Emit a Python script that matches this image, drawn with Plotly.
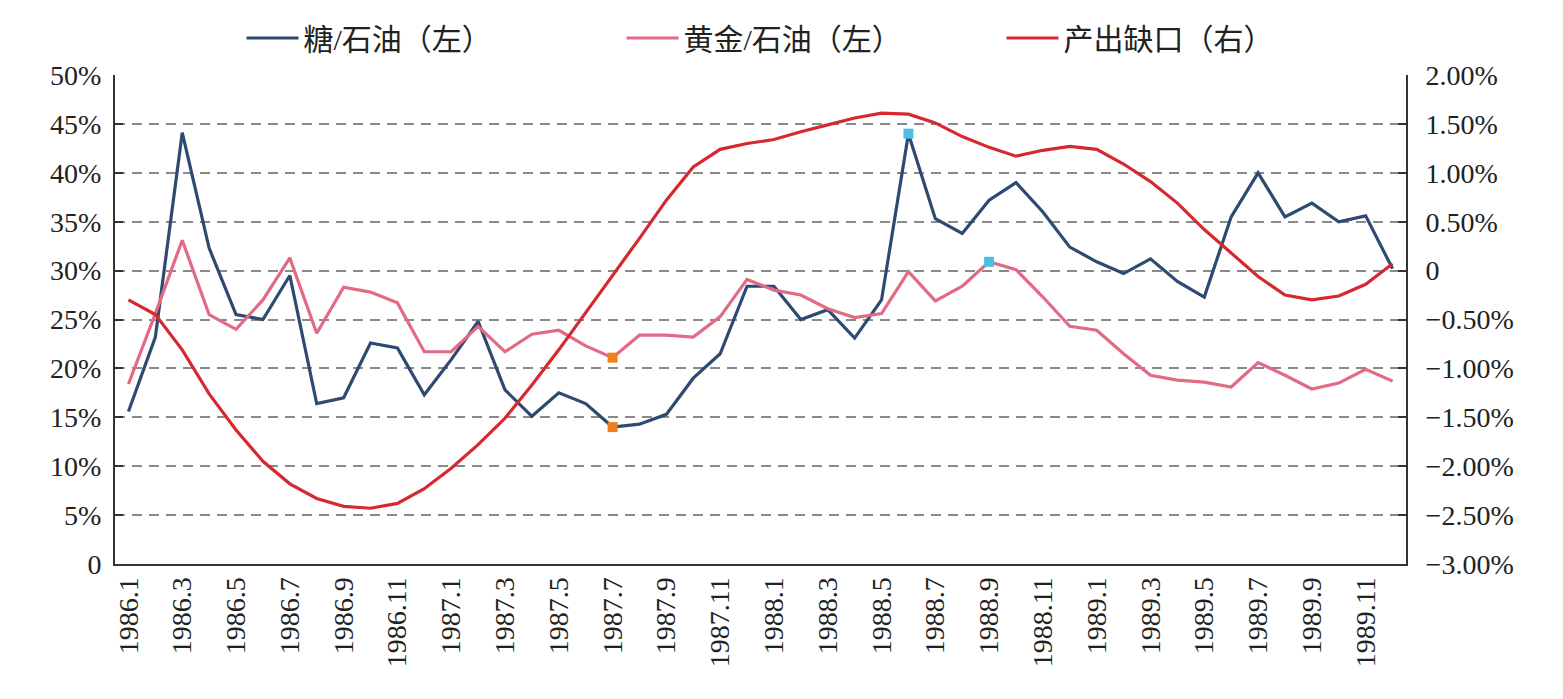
import plotly.graph_objects as go

months = [f"{y}.{m}" for y in (1986, 1987, 1988, 1989) for m in range(1, 13)]

sugar_oil = [15.6, 23.2, 44.1, 32.3, 25.5, 25.0, 29.5, 16.4, 17.0, 22.6, 22.1, 17.3,
             20.9, 24.8, 17.8, 15.1, 17.5, 16.4, 14.0, 14.3, 15.3, 19.0, 21.5, 28.4,
             28.4, 25.0, 26.0, 23.1, 27.0, 44.0, 35.3, 33.8, 37.2, 39.0, 36.0, 32.4,
             30.9, 29.7, 31.2, 28.9, 27.3, 35.5, 40.0, 35.5, 36.9, 35.0, 35.6, 30.2]

gold_oil = [18.4, 25.6, 33.1, 25.5, 24.0, 27.0, 31.3, 23.6, 28.3, 27.8, 26.7, 21.7,
            21.7, 24.3, 21.7, 23.5, 23.9, 22.3, 21.1, 23.4, 23.4, 23.2, 25.3, 29.1,
            28.0, 27.5, 26.1, 25.2, 25.6, 29.9, 26.9, 28.4, 30.9, 30.1, 27.3, 24.3,
            23.9, 21.5, 19.3, 18.8, 18.6, 18.1, 20.6, 19.3, 17.9, 18.5, 19.9, 18.7]

output_gap = [-0.30, -0.45, -0.81, -1.26, -1.63, -1.95, -2.18, -2.33, -2.41, -2.43, -2.38, -2.23,
              -2.02, -1.78, -1.51, -1.17, -0.81, -0.43, -0.06, 0.33, 0.72, 1.06, 1.24, 1.30,
              1.34, 1.42, 1.49, 1.56, 1.61, 1.60, 1.51, 1.37, 1.26, 1.17, 1.23, 1.27,
              1.24, 1.09, 0.91, 0.69, 0.42, 0.18, -0.06, -0.25, -0.30, -0.26, -0.14, 0.07]

names = ["糖/石油（左）", "黄金/石油（左）", "产出缺口（右）"]
colors = ["#2E4A72", "#E26A85", "#D7282F"]

low_idx = 18          # 1987.7 highlighted (orange)
sugar_high_idx = 29   # 1988.6 highlighted (cyan)
gold_high_idx = 32    # 1988.9 highlighted (cyan)

left_ticks = [0, 5, 10, 15, 20, 25, 30, 35, 40, 45, 50]
left_text = ["0"] + [f"{v}%" for v in left_ticks[1:]]
right_ticks = [-3.0, -2.5, -2.0, -1.5, -1.0, -0.5, 0.0, 0.5, 1.0, 1.5, 2.0]
right_text = [("0" if v == 0 else (f"{v:.2f}%".replace("-", "−"))) for v in right_ticks]

font_family = "Liberation Serif, Noto Sans CJK SC, serif"

fig = go.Figure()
fig.add_trace(go.Scatter(x=months, y=sugar_oil, mode="lines", name=names[0],
                         line=dict(color=colors[0], width=3.2)))
fig.add_trace(go.Scatter(x=months, y=gold_oil, mode="lines", name=names[1],
                         line=dict(color=colors[1], width=3.2)))
fig.add_trace(go.Scatter(x=months, y=output_gap, mode="lines", name=names[2],
                         line=dict(color=colors[2], width=3.2), yaxis="y2"))

fig.add_trace(go.Scatter(x=[months[low_idx], months[low_idx]],
                         y=[sugar_oil[low_idx], gold_oil[low_idx]],
                         mode="markers", showlegend=False, hoverinfo="skip",
                         marker=dict(symbol="square", size=10, color="#F07F1E")))
fig.add_trace(go.Scatter(x=[months[sugar_high_idx], months[gold_high_idx]],
                         y=[sugar_oil[sugar_high_idx], gold_oil[gold_high_idx]],
                         mode="markers", showlegend=False, hoverinfo="skip",
                         marker=dict(symbol="square", size=10, color="#4DBFE6")))

fig.update_layout(
    width=1563, height=699,
    margin=dict(l=115, r=157, t=75, b=135),
    paper_bgcolor="white", plot_bgcolor="white",
    font=dict(family=font_family, size=28, color="#222222"),
    showlegend=True,
    legend=dict(orientation="h", x=0.098, xanchor="left", y=1.0757, yanchor="middle",
                font=dict(size=30, family=font_family), itemwidth=52,
                entrywidth=313, entrywidthmode="pixels", tracegroupgap=0,
                bgcolor="rgba(0,0,0,0)"),
    xaxis=dict(type="category", categoryorder="array", categoryarray=months,
               tickmode="array", tickvals=months[::2], ticktext=months[::2],
               tickangle=-90, showgrid=False, showline=True, linecolor="#333333",
               linewidth=2, ticks="", tickfont=dict(size=28), range=[-0.5, 47.5],
               zeroline=False),
    yaxis=dict(range=[0, 50], tickmode="array", tickvals=left_ticks, ticktext=left_text,
               showgrid=True, gridcolor="#8a8a8a", griddash="10px,7px", gridwidth=1.5,
               showline=True, linecolor="#333333", linewidth=2,
               ticks="inside", ticklen=8, tickcolor="#333333", tickwidth=2,
               ticklabelstandoff=6,
               tickfont=dict(size=28), zeroline=False),
    yaxis2=dict(range=[-3, 2], overlaying="y", side="right", tickmode="array",
                tickvals=right_ticks, ticktext=right_text, showgrid=False,
                showline=True, linecolor="#333333", linewidth=2,
                ticks="inside", ticklen=8, tickcolor="#333333", tickwidth=2,
                ticklabelstandoff=12,
                tickfont=dict(size=28), zeroline=False),
)

fig.write_html("out.html")
